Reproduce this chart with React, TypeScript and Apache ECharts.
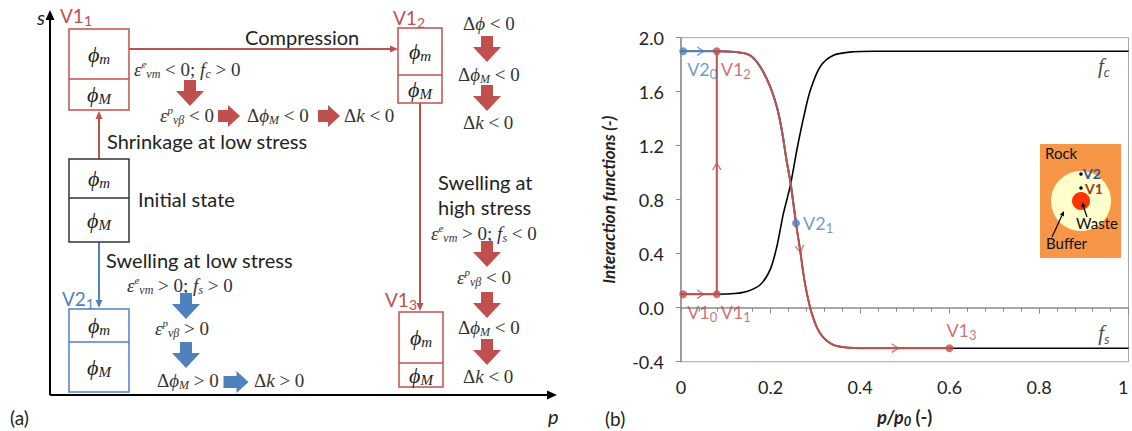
import React, { useEffect, useRef } from 'react';
import * as echarts from 'echarts';

const RED = '#C0504D';
const BLUE = '#4F81BD';
const AXIS_GRAY = '#8c8c8c';
const SANS = 'Lato';
const SERIF = 'Liberation Serif';

// ---- panel (b) data ----
// f_c curve (black), p/p0 vs value
const fcP = [0, 0.08, 0.12, 0.147, 0.177, 0.199, 0.214, 0.229, 0.244, 0.259, 0.274, 0.289, 0.311, 0.341, 0.386, 0.43, 1];
const fcV = [0.1, 0.1, 0.105, 0.12, 0.17, 0.28, 0.45, 0.7, 0.9, 1.17, 1.41, 1.61, 1.785, 1.87, 1.896, 1.9, 1.9];
// f_s curve (black, followed by the V1 / V2 paths)
const fsP = [0, 0.08, 0.12, 0.154, 0.177, 0.199, 0.214, 0.225, 0.236, 0.245, 0.257, 0.266, 0.277, 0.292, 0.311, 0.341, 0.386, 0.43, 0.6, 1];
const fsV = [1.9, 1.9, 1.895, 1.87, 1.785, 1.64, 1.49, 1.32, 1.09, 0.92, 0.625, 0.43, 0.18, -0.04, -0.19, -0.276, -0.298, -0.3, -0.3, -0.3];

// V1 path: wetting at low stress then compression
const v1StepP = [0.005, 0.08, 0.08];
const v1StepV = [0.1, 0.1, 1.9];
const v1EndP = 0.6;
// V2 path
const v2StartP = 0.005;
const v2EndP = 0.257;

// stress points
const v1PtP = [0.005, 0.08, 0.08, 0.6];
const v1PtV = [0.1, 0.1, 1.9, -0.3];
const v1PtSub = ['0', '1', '2', '3'];
const v1PtPos = ['bottom', 'bottom', 'bottom', 'top'];
const v2PtP = [0.005, 0.257];
const v2PtV = [1.9, 0.625];
const v2PtSub = ['0', '1'];
const v2PtPos = ['bottom', 'right'];

// direction arrows on the paths
const arrowP = [0.045, 0.08, 0.266, 0.48, 0.045];
const arrowV = [0.1, 1.05, 0.43, -0.3, 1.9];
const arrowRot = [0, 90, -81, 0, 0];
const arrowCol = [RED, RED, RED, RED, BLUE];

// curve names
const curveLabP = [0.945, 0.945];
const curveLabV = [1.9, -0.3];
const curveLabSub = ['c', 's'];

const xTicks = [0, 0.2, 0.4, 0.6, 0.8, 1];

// ---- panel (a) helpers ----
const mathRich = (color: string) => ({
  r: { fontFamily: SERIF, fontSize: 19, fill: color },
  i: { fontFamily: SERIF, fontSize: 19, fontStyle: 'italic', fill: color },
  sup: { fontFamily: SERIF, fontSize: 11, fontStyle: 'italic', fill: color, verticalAlign: 'top' },
  sub: { fontFamily: SERIF, fontSize: 12, fontStyle: 'italic', fill: color, verticalAlign: 'bottom' },
});

function mathText(x: number, y: number, text: string, color = '#333') {
  return {
    type: 'text', x, y, silent: true,
    style: { text, rich: mathRich(color), lineHeight: 22, align: 'left', textAlign: 'left', verticalAlign: 'middle', textVerticalAlign: 'middle' },
  };
}

function label(x: number, y: number, text: string, size = 20, color = '#222', extra: any = {}) {
  return {
    type: 'text', x, y, silent: true,
    style: { text, fontFamily: SANS, fontSize: size, fill: color, align: 'left', textAlign: 'left', verticalAlign: 'middle', textVerticalAlign: 'middle', ...extra },
  };
}

function vLabel(x: number, y: number, a: string, s: string, color: string) {
  return {
    type: 'text', x, y, silent: true,
    style: {
      text: `{a|${a}}{s|${s}}`, lineHeight: 24, align: 'left', textAlign: 'left', verticalAlign: 'middle', textVerticalAlign: 'middle',
      rich: {
        a: { fontFamily: SANS, fontSize: 19, fill: color },
        s: { fontFamily: SANS, fontSize: 14, fill: color, verticalAlign: 'bottom' },
      },
    },
  };
}

function phi(x: number, y: number, sub: string) {
  return {
    type: 'text', x, y, silent: true,
    style: {
      text: `{p|ϕ}{s|${sub}}`, lineHeight: 24, align: 'center', textAlign: 'center', verticalAlign: 'middle', textVerticalAlign: 'middle',
      rich: {
        p: { fontFamily: SERIF, fontSize: 22, fontStyle: 'italic', fill: '#222' },
        s: { fontFamily: SERIF, fontSize: 15, fontStyle: 'italic', fill: '#222', verticalAlign: 'bottom' },
      },
    },
  };
}

function box(x: number, y: number, w: number, h: number, split: number, color: string) {
  return [
    { type: 'rect', silent: true, shape: { x, y, width: w, height: h }, style: { fill: '#fff', stroke: color, lineWidth: 1.5 } },
    { type: 'line', silent: true, shape: { x1: x, y1: split, x2: x + w, y2: split }, style: { stroke: color, lineWidth: 1.5 } },
    phi(x + w / 2, (y + split) / 2, 'm'),
    phi(x + w / 2, (split + y + h) / 2, 'M'),
  ];
}

function connector(x1: number, y1: number, x2: number, y2: number, color: string, lw = 2, head = 8, half = 3.5) {
  const len = Math.hypot(x2 - x1, y2 - y1);
  const ux = (x2 - x1) / len;
  const uy = (y2 - y1) / len;
  const bx = x2 - ux * head;
  const by = y2 - uy * head;
  return [
    { type: 'line', silent: true, shape: { x1, y1, x2: bx, y2: by }, style: { stroke: color, lineWidth: lw } },
    {
      type: 'polygon', silent: true,
      shape: { points: [[x2, y2], [bx - uy * half, by + ux * half], [bx + uy * half, by - ux * half]] },
      style: { fill: color },
    },
  ];
}

function blockArrow(cx: number, cy: number, dir: 'down' | 'right', color: string, len = 26, headLen = 15, shaftW = 12, headW = 28) {
  const pts: number[][] = [];
  const a = len / 2;
  const s = shaftW / 2;
  const hw = headW / 2;
  const base: number[][] = [
    [-a, -s], [a - headLen, -s], [a - headLen, -hw], [a, 0], [a - headLen, hw], [a - headLen, s], [-a, s],
  ];
  base.forEach(([u, v]) => {
    if (dir === 'right') pts.push([cx + u, cy + v]);
    else pts.push([cx - v, cy + u]);
  });
  return { type: 'polygon', silent: true, shape: { points: pts }, style: { fill: color } };
}

function panelA() {
  const els: any[] = [];
  // axes
  els.push(...connector(50, 395, 50, 10, '#000', 2, 10, 4.5));
  els.push(...connector(50, 395, 557, 395, '#000', 2, 10, 4.5));
  els.push(label(37, 17, 's', 20, '#222', { fontStyle: 'italic' }));
  els.push(label(548, 416, 'p', 20, '#222', { fontStyle: 'italic' }));
  els.push(label(10, 417, '(a)', 19));

  // connectors between states
  els.push(...connector(99, 159, 99, 111, RED));
  els.push(...connector(129, 49, 398, 49, RED));
  els.push(...connector(420, 103, 420, 311, RED));
  els.push(...connector(99, 242, 99, 308, BLUE));

  // boxes
  els.push(...box(69, 29, 60, 81, 79, RED));
  els.push(...box(69, 159, 60, 83, 198, '#333'));
  els.push(...box(69, 309, 60, 83, 342, BLUE));
  els.push(...box(398, 28, 44, 75, 75, RED));
  els.push(...box(399, 312, 44, 75, 363, RED));

  // state names
  els.push(vLabel(60, 15, 'V1', '1', RED));
  els.push(vLabel(393, 17, 'V1', '2', RED));
  els.push(vLabel(385, 299, 'V1', '3', RED));
  els.push(vLabel(62, 298, 'V2', '1', BLUE));

  // sans labels
  els.push(label(245, 37, 'Compression'));
  els.push(label(107, 141, 'Shrinkage at low stress'));
  els.push(label(138, 199, 'Initial state'));
  els.push(label(438, 182, 'Swelling at'));
  els.push(label(438, 207, 'high stress'));
  els.push(label(106, 260, 'Swelling at low stress'));

  // math
  els.push(mathText(134, 69, '{i|ε}{sup|e}{sub|vm}{r| < 0; }{i|f}{sub|c}{r| > 0}'));
  els.push(mathText(160, 115, '{i|ε}{sup|p}{sub|vβ}{r| < 0}'));
  els.push(mathText(247, 115, '{r|Δ}{i|ϕ}{sub|M}{r| < 0}'));
  els.push(mathText(344, 115, '{r|Δ}{i|k}{r| < 0}'));
  els.push(mathText(463, 23, '{r|Δ}{i|ϕ}{r| < 0}'));
  els.push(mathText(458, 74, '{r|Δ}{i|ϕ}{sub|M}{r| < 0}'));
  els.push(mathText(463, 122, '{r|Δ}{i|k}{r| < 0}'));
  els.push(mathText(431, 233, '{i|ε}{sup|e}{sub|vm}{r| > 0; }{i|f}{sub|s}{r| < 0}'));
  els.push(mathText(457, 277, '{i|ε}{sup|p}{sub|vβ}{r| < 0}'));
  els.push(mathText(458, 327, '{r|Δ}{i|ϕ}{sub|M}{r| < 0}'));
  els.push(mathText(463, 376, '{r|Δ}{i|k}{r| < 0}'));
  els.push(mathText(127, 285, '{i|ε}{sup|e}{sub|vm}{r| > 0; }{i|f}{sub|s}{r| > 0}'));
  els.push(mathText(155, 328, '{i|ε}{sup|p}{sub|vβ}{r| > 0}'));
  els.push(mathText(157, 380, '{r|Δ}{i|ϕ}{sub|M}{r| > 0}'));
  els.push(mathText(254, 380, '{r|Δ}{i|k}{r| > 0}'));

  // block arrows
  els.push(blockArrow(190, 93, 'down', RED));
  els.push(blockArrow(229, 116, 'right', RED, 22, 12, 12, 22));
  els.push(blockArrow(329, 116, 'right', RED, 22, 12, 12, 22));
  els.push(blockArrow(487, 49, 'down', RED));
  els.push(blockArrow(487, 98, 'down', RED));
  els.push(blockArrow(487, 254, 'down', RED));
  els.push(blockArrow(487, 305, 'down', RED));
  els.push(blockArrow(487, 352, 'down', RED));
  els.push(blockArrow(186, 306, 'down', BLUE));
  els.push(blockArrow(186, 355, 'down', BLUE));
  els.push(blockArrow(236, 382, 'right', BLUE, 25, 12, 12, 22));

  els.push(label(605, 418, '(b)', 19));
  return els;
}

function inset() {
  return [
    { type: 'rect', silent: true, shape: { x: 1040, y: 144, width: 81, height: 114 }, style: { fill: '#F79646' } },
    { type: 'circle', silent: true, shape: { cx: 1081, cy: 201, r: 30 }, style: { fill: '#FFFFCC' } },
    { type: 'circle', silent: true, shape: { cx: 1081, cy: 201, r: 9 }, style: { fill: '#FF3300' } },
    label(1045, 153, 'Rock', 15, '#111'),
    { type: 'circle', silent: true, shape: { cx: 1081, cy: 174, r: 1.8 }, style: { fill: '#000' } },
    { type: 'circle', silent: true, shape: { cx: 1081, cy: 188, r: 1.8 }, style: { fill: '#000' } },
    label(1083, 173, 'V2', 14, '#2F5597', { fontWeight: 'bold' }),
    label(1085, 188, 'V1', 14, '#953735', { fontWeight: 'bold' }),
    label(1076, 223, 'Waste', 15, '#111'),
    ...connector(1087, 217, 1082, 202, '#000', 1.2, 5, 2.2),
    label(1046, 243, 'Buffer', 15, '#111'),
    ...connector(1052, 237, 1064, 211, '#000', 1.2, 5, 2.2),
  ];
}

export default function App() {
  const chartRef = useRef<HTMLDivElement>(null);

  useEffect(() => {
    if (!chartRef.current) return;
    const chart = echarts.init(chartRef.current, undefined, { renderer: 'svg' });

    const fc = fcP.map((p, i) => [p, fcV[i]]);
    const fs = fsP.map((p, i) => [p, fsV[i]]);
    const v1Step = v1StepP.map((p, i) => [p, v1StepV[i]]);
    const v1Curve = fs.filter((d) => d[0] >= 0.08 && d[0] <= v1EndP);
    const v2Curve = [[v2StartP, 1.9], ...fs.filter((d) => d[0] >= 0.08 && d[0] <= v2EndP)];

    const ptLabelRich = (color: string) => ({
      a: { fontFamily: SANS, fontSize: 18, color, lineHeight: 22 },
      s: { fontFamily: SANS, fontSize: 13, color, verticalAlign: 'bottom' },
    });

    const option = {
      animation: false,
      textStyle: { fontFamily: SANS },
      grid: {
        left: 681, right: 3.5, top: 37.7, bottom: 69.3, outerBoundsMode: 'none', containLabel: false,
        show: true, borderColor: '#a6a6a6', borderWidth: 1,
      },
      xAxis: {
        type: 'value', min: 0, max: 1, interval: 0.2,
        axisLine: { lineStyle: { color: AXIS_GRAY, width: 1.5 } },
        axisTick: { show: true, length: 6, lineStyle: { color: AXIS_GRAY } },
        minorTick: { show: true, splitNumber: 5, length: 4, lineStyle: { color: AXIS_GRAY } },
        splitLine: { show: false },
        axisLabel: {
          margin: 16, fontSize: 18, color: '#222', fontFamily: SANS, alignMaxLabel: 'right',
          formatter: (v: number) => {
            const t = xTicks.find((k) => Math.abs(k - v) < 1e-6);
            return t === undefined ? '' : String(t);
          },
        },
        name: '{b|p/p}{s|0}{n| (-)}',
        nameLocation: 'middle',
        nameGap: 44,
        nameTextStyle: {
          rich: {
            b: { fontFamily: SANS, fontSize: 18, fontWeight: 'bold', fontStyle: 'italic', color: '#222', lineHeight: 22 },
            s: { fontFamily: SANS, fontSize: 13, fontWeight: 'bold', fontStyle: 'italic', color: '#222', verticalAlign: 'bottom' },
            n: { fontFamily: SANS, fontSize: 18, fontWeight: 'bold', color: '#222' },
          },
        },
      },
      yAxis: {
        type: 'value', min: -0.4, max: 2.0, interval: 0.4,
        axisLine: { show: true, lineStyle: { color: AXIS_GRAY, width: 1.5 } },
        axisTick: { show: true, length: 5, lineStyle: { color: AXIS_GRAY } },
        splitLine: { show: false },
        axisLabel: {
          margin: 17, fontSize: 18, color: '#222', fontFamily: SANS,
          formatter: (v: number) => (Math.abs(v) < 1e-9 ? '0.0' : v.toFixed(1)),
        },
        name: 'Interaction functions (-)',
        nameLocation: 'middle',
        nameGap: 64,
        nameTextStyle: { fontFamily: SANS, fontSize: 17, fontWeight: 'bold', fontStyle: 'italic', color: '#222' },
      },
      graphic: { elements: [...panelA(), ...inset()] },
      series: [
        { type: 'line', data: fc, showSymbol: false, smooth: 0.3, lineStyle: { color: '#000', width: 1.6 }, itemStyle: { color: '#000' }, z: 2 },
        { type: 'line', data: fs, showSymbol: false, smooth: 0.3, lineStyle: { color: '#000', width: 1.6 }, itemStyle: { color: '#000' }, z: 2 },
        { type: 'line', data: v2Curve, showSymbol: false, smooth: 0.3, lineStyle: { color: BLUE, width: 2 }, itemStyle: { color: BLUE }, z: 3 },
        { type: 'line', data: v1Step, showSymbol: false, lineStyle: { color: RED, width: 2 }, itemStyle: { color: RED }, z: 4 },
        { type: 'line', data: v1Curve, showSymbol: false, smooth: 0.3, lineStyle: { color: RED, width: 2 }, itemStyle: { color: RED }, z: 4 },
        {
          type: 'scatter', symbol: 'path://M0,0L10,5L0,10L0,8.4L7.2,5L0,1.6Z', symbolSize: [8, 10], z: 5,
          data: arrowP.map((p, i) => ({ value: [p, arrowV[i]], symbolRotate: arrowRot[i], itemStyle: { color: arrowCol[i] } })),
        },
        {
          type: 'scatter', symbolSize: 8, itemStyle: { color: RED }, z: 6,
          label: { show: true, rich: ptLabelRich(RED) },
          data: v1PtP.map((p, i) => ({
            value: [p, v1PtV[i]],
            label: {
              position: v1PtPos[i], distance: 3,
              offset: v1PtPos[i] === 'top' ? [12, 0] : [19, 0],
              formatter: `{a|V1}{s|${v1PtSub[i]}}`,
            },
          })),
        },
        {
          type: 'scatter', symbolSize: 8, itemStyle: { color: BLUE }, z: 7,
          label: { show: true, rich: ptLabelRich(BLUE) },
          data: v2PtP.map((p, i) => ({
            value: [p, v2PtV[i]],
            label: {
              position: v2PtPos[i], distance: 3,
              offset: v2PtPos[i] === 'right' ? [0, 0] : [19, 0],
              formatter: `{a|V2}{s|${v2PtSub[i]}}`,
            },
          })),
        },
        {
          type: 'scatter', symbolSize: 0, z: 6,
          data: curveLabP.map((p, i) => ({
            value: [p, curveLabV[i]],
            label: {
              show: true, position: i === 0 ? 'bottom' : 'top', distance: 3,
              formatter: `{f|f}{s|${curveLabSub[i]}}`,
              rich: {
                f: { fontFamily: SERIF, fontSize: 21, fontStyle: 'italic', color: '#111', lineHeight: 24 },
                s: { fontFamily: SANS, fontSize: 13, fontStyle: 'italic', color: '#111', verticalAlign: 'bottom' },
              },
            },
          })),
        },
      ],
    };

    chart.setOption(option as any);
    return () => chart.dispose();
  }, []);

  return <div ref={chartRef} style={{ position: 'fixed', left: 0, top: 0, width: 1132, height: 431, background: '#fff' }} />;
}
